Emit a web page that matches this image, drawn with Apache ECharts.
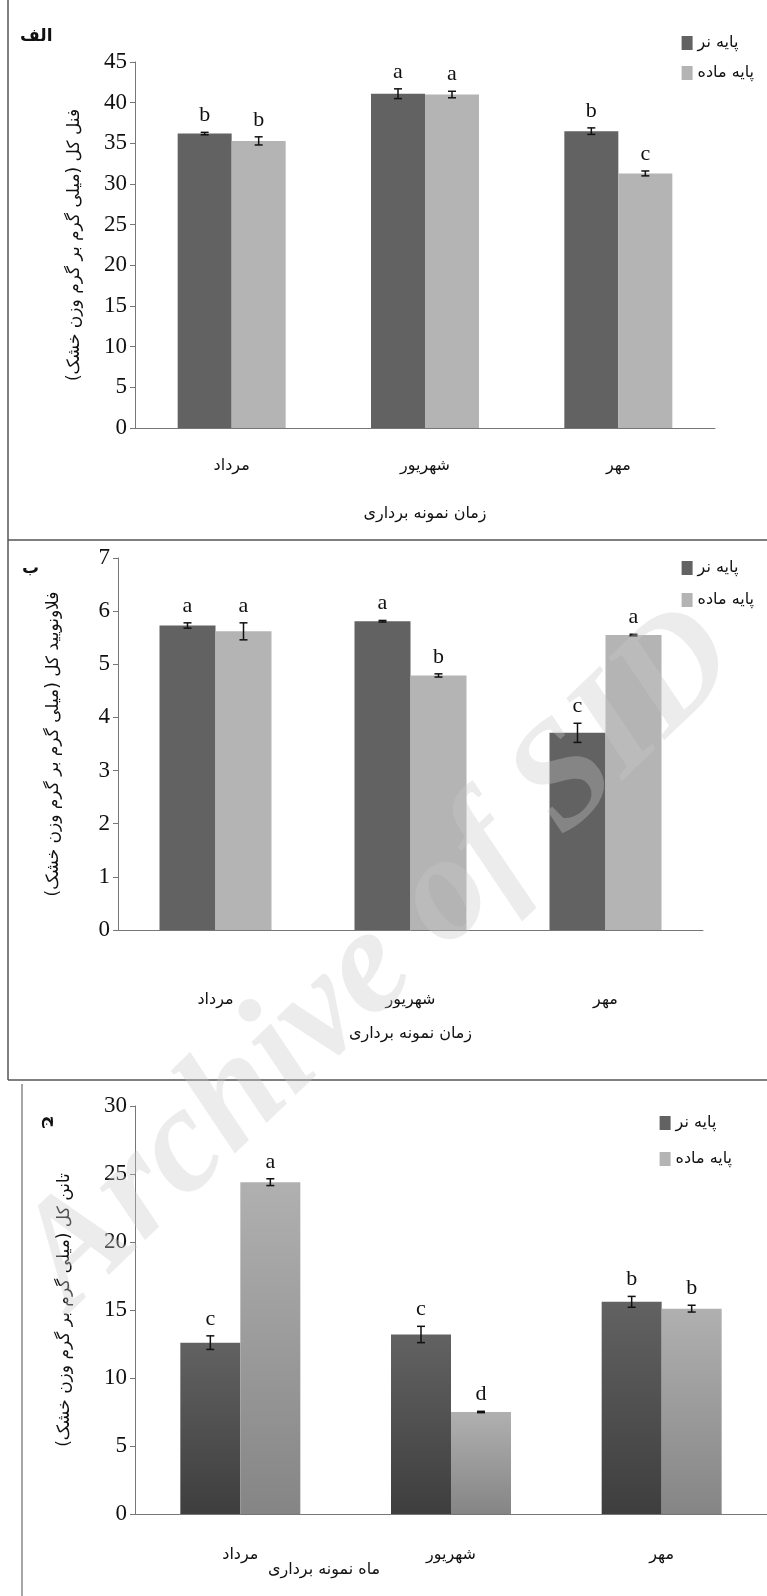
<!DOCTYPE html>
<html><head><meta charset="utf-8">
<script src="https://cdn.jsdelivr.net/npm/echarts@6/dist/echarts.min.js"></script>
<style>html,body{margin:0;padding:0;background:#fff}#main{width:767px;height:1596px}</style>
</head><body><div id="main"></div>
<script>
// دسته‌ها
var months = ['مرداد', 'شهریور', 'مهر'];
var seriesNames = ['پایه نر', 'پایه ماده'];

// فنل کل
var phenolMale = [36.2, 41.1, 36.5];
var phenolFemale = [35.3, 41.0, 31.3];
var phenolMaleErr = [0.15, 0.6, 0.4];
var phenolFemaleErr = [0.5, 0.4, 0.3];
var phenolMaleLetters = ['b', 'a', 'b'];
var phenolFemaleLetters = ['b', 'a', 'c'];

// فلاونویید کل
var flavMale = [5.73, 5.81, 3.71];
var flavFemale = [5.62, 4.79, 5.55];
var flavMaleErr = [0.05, 0.015, 0.18];
var flavFemaleErr = [0.16, 0.03, 0.015];
var flavMaleLetters = ['a', 'a', 'c'];
var flavFemaleLetters = ['a', 'b', 'a'];

// تانن کل
var tanninMale = [12.6, 13.2, 15.6];
var tanninFemale = [24.4, 7.5, 15.1];
var tanninMaleErr = [0.5, 0.6, 0.4];
var tanninFemaleErr = [0.25, 0.05, 0.25];
var tanninMaleLetters = ['c', 'c', 'b'];
var tanninFemaleLetters = ['a', 'd', 'b'];

var serif = '"Liberation Serif","DejaVu Serif",serif';
var sans = '"DejaVu Sans",sans-serif';
var dark = '#626262', light = '#b4b4b4';

function errSeries(idx, vals, errs, letters, off, bw) {
    return {
        type: 'custom', xAxisIndex: idx, yAxisIndex: idx, z: 10,
        data: vals.map(function (v, i) { return [i, v, errs[i]]; }),
        renderItem: function (params, api) {
            var c = api.coord([api.value(0), api.value(1)]);
            var x = c[0] + off * bw;
            var hi = api.coord([api.value(0), api.value(1) + api.value(2)])[1];
            var lo = api.coord([api.value(0), api.value(1) - api.value(2)])[1];
            var st = {stroke: '#111', lineWidth: 1.5};
            return {type: 'group', children: [
                {type: 'line', shape: {x1: x, y1: hi, x2: x, y2: lo}, style: st},
                {type: 'line', shape: {x1: x - 4, y1: hi, x2: x + 4, y2: hi}, style: st},
                {type: 'line', shape: {x1: x - 4, y1: lo, x2: x + 4, y2: lo}, style: st},
                {type: 'text', x: x, y: hi - 6, style: {text: letters[params.dataIndex], font: '22px ' + serif, fill: '#111', align: 'center', verticalAlign: 'bottom'}}
            ]};
        }
    };
}

function barPair(idx, male, female, bw, grad) {
    var cm = dark, cf = light;
    if (grad) {
        cm = new echarts.graphic.LinearGradient(0, 0, 0, 1, [{offset: 0, color: '#626262'}, {offset: 1, color: '#3e3e3e'}]);
        cf = new echarts.graphic.LinearGradient(0, 0, 0, 1, [{offset: 0, color: '#b0b0b0'}, {offset: 1, color: '#858585'}]);
    }
    return [
        {name: seriesNames[0], type: 'bar', xAxisIndex: idx, yAxisIndex: idx, data: male, barWidth: bw, barGap: '0%', itemStyle: {color: cm}},
        {name: seriesNames[1], type: 'bar', xAxisIndex: idx, yAxisIndex: idx, data: female, barWidth: bw, barGap: '0%', itemStyle: {color: cf}}
    ];
}

function yAx(idx, max, interval, name, gap) {
    return {
        type: 'value', gridIndex: idx, min: 0, max: max, interval: interval,
        splitLine: {show: false},
        axisLine: {show: true, lineStyle: {color: '#777'}},
        axisTick: {show: true, length: 5, lineStyle: {color: '#777'}},
        axisLabel: {fontFamily: serif, fontSize: 23, color: '#111', margin: 8},
        name: name, nameLocation: 'middle', nameRotate: 90, nameGap: gap,
        nameTextStyle: {fontSize: 17, color: '#111', fontFamily: sans}
    };
}

function xAx(idx, margin, name, gap) {
    return {
        type: 'category', gridIndex: idx, data: months,
        axisLine: {lineStyle: {color: '#777'}},
        axisTick: {length: 7, lineStyle: {color: '#777'}},
        axisLabel: {fontSize: 16, color: '#111', margin: margin, fontFamily: sans},
        name: name, nameLocation: 'middle', nameGap: gap,
        nameTextStyle: {fontSize: 16, color: '#111', fontFamily: sans}
    };
}

function leg(top, right, gap) {
    return {data: seriesNames, right: right, top: top, orient: 'vertical', itemGap: gap,
        itemWidth: 11, itemHeight: 14, icon: 'rect', selectedMode: false,
        textStyle: {fontSize: 16, color: '#111', fontFamily: sans}};
}

var myChart = echarts.init(document.getElementById('main'));
var option = {
    animation: false,
    backgroundColor: '#fff',
    grid: [
        {left: 135, top: 62, width: 580, height: 366},
        {left: 118, top: 558, width: 585, height: 372},
        {left: 135, top: 1106, width: 633, height: 408}
    ],
    xAxis: [xAx(0, 30, 'زمان نمونه برداری', 78), xAx(1, 62, 'زمان نمونه برداری', 96), xAx(2, 33, '', 0)],
    yAxis: [
        yAx(0, 45, 5, '(فنل کل (میلی گرم بر گرم وزن خشک', 52),
        yAx(1, 7, 1, '(فلاونویید کل (میلی گرم بر گرم وزن خشک', 56),
        yAx(2, 30, 5, '(تانن کل (میلی گرم بر گرم وزن خشک', 62)
    ],
    legend: [leg(30, 8, 14), leg(555, 8, 16), leg(1110, 30, 20)],
    graphic: [
        {type: 'line', shape: {x1: 8, y1: 0, x2: 8, y2: 540}, style: {stroke: '#555', lineWidth: 1.5}},
        {type: 'line', shape: {x1: 8, y1: 540, x2: 767, y2: 540}, style: {stroke: '#555', lineWidth: 1.5}},
        {type: 'line', shape: {x1: 8, y1: 540, x2: 8, y2: 1080}, style: {stroke: '#555', lineWidth: 1.5}},
        {type: 'line', shape: {x1: 8, y1: 1080, x2: 767, y2: 1080}, style: {stroke: '#555', lineWidth: 1.5}},
        {type: 'line', shape: {x1: 22, y1: 1084, x2: 22, y2: 1596}, style: {stroke: '#888', lineWidth: 1.5}},
        {type: 'text', left: 20, top: 28, style: {text: 'الف', font: 'bold 17px "DejaVu Sans"', fill: '#111'}},
        {type: 'text', left: 22, top: 560, style: {text: 'ب', font: 'bold 17px "DejaVu Sans"', fill: '#111'}},
        {type: 'text', x: 50, y: 1122, rotation: -Math.PI / 2, style: {text: 'ج', font: 'bold 17px "DejaVu Sans"', fill: '#111', align: 'center', verticalAlign: 'middle'}},
        {type: 'text', left: 268, top: 1562, style: {text: 'ماه نمونه برداری', font: '16px "DejaVu Sans"', fill: '#111'}},
        {type: 'text', x: 380, y: 960, rotation: Math.PI / 4.1, z: 100, silent: true,
            style: {text: 'Archive of SID', font: 'italic bold 150px ' + serif, fill: 'rgba(200,200,200,0.35)', align: 'center', verticalAlign: 'middle'}}
    ],
    series: [].concat(
        barPair(0, phenolMale, phenolFemale, 54, false),
        [errSeries(0, phenolMale, phenolMaleErr, phenolMaleLetters, -0.5, 54),
         errSeries(0, phenolFemale, phenolFemaleErr, phenolFemaleLetters, 0.5, 54)],
        barPair(1, flavMale, flavFemale, 56, false),
        [errSeries(1, flavMale, flavMaleErr, flavMaleLetters, -0.5, 56),
         errSeries(1, flavFemale, flavFemaleErr, flavFemaleLetters, 0.5, 56)],
        barPair(2, tanninMale, tanninFemale, 60, true),
        [errSeries(2, tanninMale, tanninMaleErr, tanninMaleLetters, -0.5, 60),
         errSeries(2, tanninFemale, tanninFemaleErr, tanninFemaleLetters, 0.5, 60)]
    )
};
myChart.setOption(option);
</script></body></html>
